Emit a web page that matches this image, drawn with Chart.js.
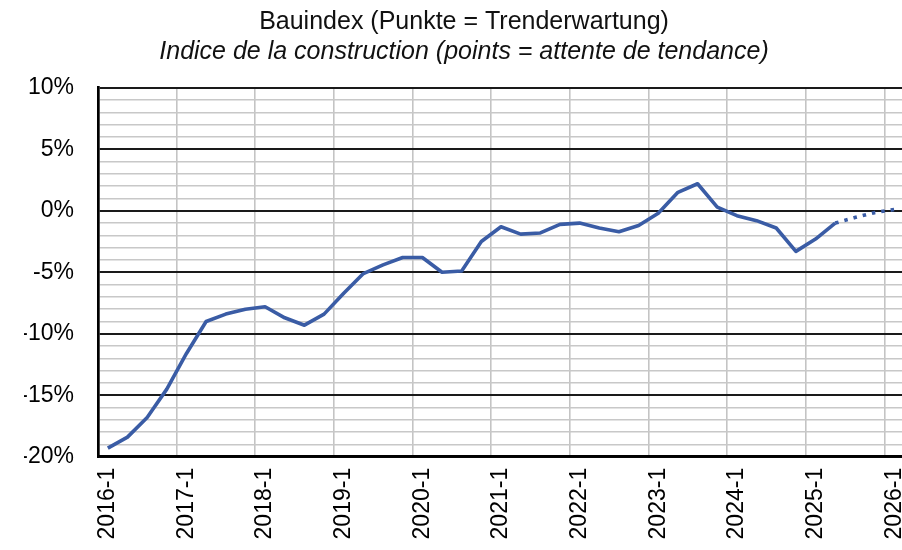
<!DOCTYPE html>
<html>
<head>
<meta charset="utf-8">
<script src="https://cdn.jsdelivr.net/npm/chart.js@4/dist/chart.umd.min.js"></script>
<style>
  html, body { margin: 0; padding: 0; overflow: hidden; background: #fff; }
  canvas { display: block; }
</style>
</head>
<body>
<canvas id="c" width="904" height="550"></canvas>
<script>
const categories = [
  '2016-1','2016-2','2016-3','2016-4',
  '2017-1','2017-2','2017-3','2017-4',
  '2018-1','2018-2','2018-3','2018-4',
  '2019-1','2019-2','2019-3','2019-4',
  '2020-1','2020-2','2020-3','2020-4',
  '2021-1','2021-2','2021-3','2021-4',
  '2022-1','2022-2','2022-3','2022-4',
  '2023-1','2023-2','2023-3','2023-4',
  '2024-1','2024-2','2024-3','2024-4',
  '2025-1','2025-2','2025-3','2025-4',
  '2026-1'
];
const values = [
  -19.3, -18.4, -16.8, -14.5,
  -11.6,  -9.0,  -8.4,  -8.0,
   -7.8,  -8.7,  -9.3,  -8.4,
   -6.7,  -5.1,  -4.4,  -3.8,
   -3.8,  -5.0,  -4.9,  -2.5,
   -1.3,  -1.9,  -1.8,  -1.1,
   -1.0,  -1.4,  -1.7,  -1.2,
   -0.2,   1.5,   2.2,   0.3,
   -0.4,  -0.8,  -1.4,  -3.3,
   -2.3,  -1.0,  -0.55, -0.15,
    0.1
];
const forecastFrom = '2025-2';   // points after this one are the trend expectation
const yTicks = [-20, -15, -10, -5, 0, 5, 10];
const titleDE = 'Bauindex (Punkte = Trenderwartung)';
const titleFR = 'Indice de la construction (points = attente de tendance)';

const forecastIdx = categories.indexOf(forecastFrom);
const FONT = '"Liberation Sans", Arial, sans-serif';

new Chart(document.getElementById('c'), {
  type: 'line',
  data: {
    labels: categories,
    datasets: [{
      data: values,
      borderColor: '#3a5ca5',
      borderWidth: 3.6,
      pointRadius: 0,
      tension: 0,
      fill: false,
      borderJoinStyle: 'round',
      segment: {
        borderDash: ctx => ctx.p0DataIndex >= forecastIdx ? [3.5, 6] : undefined
      }
    }]
  },
  options: {
    responsive: false,
    devicePixelRatio: 1,
    animation: false,
    layout: { padding: { left: 24, right: 0, top: 0, bottom: 0 } },
    plugins: {
      legend: { display: false },
      tooltip: { enabled: false },
      title: {
        display: true,
        text: titleDE,
        color: '#111',
        font: { family: FONT, size: 25, weight: 'normal', lineHeight: 1.2 },
        padding: { top: 7.3, bottom: 0 }
      },
      subtitle: {
        display: true,
        text: titleFR,
        color: '#111',
        font: { family: FONT, size: 25, weight: 'normal', style: 'italic', lineHeight: 1.2 },
        padding: { top: 0, bottom: 20.5 }
      }
    },
    scales: {
      x: {
        type: 'category',
        offset: true,
        grid: {
          offset: true,
          drawTicks: false,
          color: ctx => (ctx.index % 4 === 0) ? '#c4c4c4' : 'rgba(0,0,0,0)',
          lineWidth: 1.6
        },
        border: { display: true, color: '#000', width: 2.7 },
        ticks: {
          autoSkip: false,
          minRotation: 90,
          maxRotation: 90,
          padding: 11,
          color: '#000',
          font: { family: FONT, size: 23 },
          callback: function (value, index) {
            return index % 4 === 0 ? this.getLabelForValue(value) : '';
          }
        },
        afterFit: s => { s.height = 550 - 456.8; s.paddingLeft = 0; s.paddingRight = 0; }
      },
      y: {
        min: yTicks[0],
        max: yTicks[yTicks.length - 1],
        grid: {
          drawTicks: false,
          color: ctx => (yTicks.includes(ctx.tick.value)) ? '#1a1a1a' : '#c8c8c8',
          lineWidth: ctx => (yTicks.includes(ctx.tick.value)) ? 2 : 1.5
        },
        border: { display: true, color: '#000', width: 2.7 },
        ticks: {
          stepSize: 1,
          autoSkip: false,
          padding: 24,
          color: '#000',
          font: { family: FONT, size: 23 },
          callback: v => yTicks.includes(v) ? v + '%' : ''
        },
        afterFit: s => { s.width = 74; }
      }
    }
  }
});
</script>
</body>
</html>
